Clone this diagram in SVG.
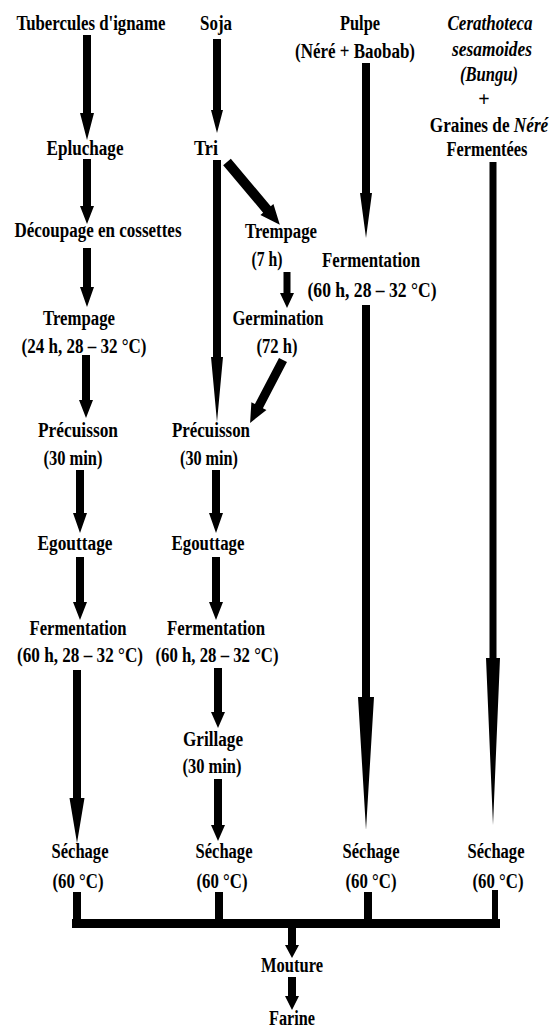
<svg xmlns="http://www.w3.org/2000/svg" width="550" height="1030" viewBox="0 0 550 1030">
<style>
.t{font-family:"Liberation Serif","Times New Roman",serif;font-weight:bold;font-size:20px;text-anchor:middle;fill:#000}
.i{font-style:italic}
.c path,.c rect{fill:#000;stroke:none}
</style>
<rect width="550" height="1030" fill="#fff"/>
<g id="connectors" class="c">
<path d="M83 35H91V113H94L87 140L80 113H83Z"/>
<path d="M83 159H91V206H94L87 224L80 206H83Z"/>
<path d="M83 248H91V287H94L87 307L80 287H83Z"/>
<path d="M82 355H90V400H93L86 418L79 400H82Z"/>
<path d="M76 470H84V513H87L80 533L73 513H76Z"/>
<path d="M76 557H84V602H87L80 620L73 602H76Z"/>
<path d="M73 670H81V798H84.5L77 843L69.5 798H73Z"/>
<path d="M213 39H221V110H223L217 133L211 110H213Z"/>
<path d="M213 160H221V357H223L217 422L211 357H213Z"/>
<path d="M283.5 272H290.5V293H294L287 308L280 293H283.5Z"/>
<path d="M212 470H220V513H223L216 533L209 513H212Z"/>
<path d="M212 557H220V602H223L216 620L209 602H212Z"/>
<path d="M214 668H222V712H225L218 728L211 712H214Z"/>
<path d="M214 779H222V825H225L218 841L211 825H214Z"/>
<path d="M362 63H370V193H372L366 238L360 193H362Z"/>
<path d="M362 305H370V697H374L366 830L358 697H362Z"/>
<path d="M489.5 162H496.5V658H500L493 825L486 658H489.5Z"/>
<path transform="translate(227,162) rotate(49.9)" d="M0 -5H62V-8.5L82 0L62 8.5V5H0Z"/>
<path transform="translate(283,360) rotate(117.6)" d="M0 -4.5H52V-8.5L71 0L52 8.5V4.5H0Z"/>
<rect x="73" y="892" width="8" height="30"/>
<rect x="215" y="892" width="8" height="30"/>
<rect x="364" y="892" width="8" height="30"/>
<rect x="492" y="890" width="6" height="32"/>
<rect x="72" y="919" width="428" height="9"/>
<path d="M288 926H296V945H299L292 958L285 945H288Z"/>
<path d="M288 977H296V996H299L292 1010L285 996H288Z"/>
</g>
<g id="tubercules"><text class="t" x="91" y="30" textLength="149" lengthAdjust="spacingAndGlyphs">Tubercules d'igname</text></g>
<g id="soja"><text class="t" x="216" y="30" textLength="32" lengthAdjust="spacingAndGlyphs">Soja</text></g>
<g id="pulpe"><text class="t" x="360" y="30" textLength="40" lengthAdjust="spacingAndGlyphs">Pulpe</text><text class="t" x="355" y="58" textLength="120" lengthAdjust="spacingAndGlyphs">(Néré + Baobab)</text></g>
<g id="bungu">
<text class="t i" x="490" y="30" textLength="85" lengthAdjust="spacingAndGlyphs">Cerathoteca</text>
<text class="t i" x="492" y="56" textLength="80" lengthAdjust="spacingAndGlyphs">sesamoides</text>
<text class="t i" x="489" y="81" textLength="58" lengthAdjust="spacingAndGlyphs">(Bungu)</text>
<text class="t" x="484" y="106">+</text>
<text class="t" transform="translate(489,132) scale(0.86,1)" x="0" y="0">Graines de <tspan class="i">Néré</tspan></text>
<text class="t" x="487" y="156" textLength="81" lengthAdjust="spacingAndGlyphs">Fermentées</text>
</g>
<g id="epluchage"><text class="t" x="85" y="155" textLength="77" lengthAdjust="spacingAndGlyphs">Epluchage</text></g>
<g id="tri"><text class="t" x="206" y="155" textLength="24" lengthAdjust="spacingAndGlyphs">Tri</text></g>
<g id="decoupage"><text class="t" x="98" y="237" textLength="167" lengthAdjust="spacingAndGlyphs">Découpage en cossettes</text></g>
<g id="trempage-soja"><text class="t" x="281" y="238" textLength="72" lengthAdjust="spacingAndGlyphs">Trempage</text><text class="t" x="267" y="266" textLength="31" lengthAdjust="spacingAndGlyphs">(7 h)</text></g>
<g id="fermentation-pulpe"><text class="t" x="371" y="267" textLength="98" lengthAdjust="spacingAndGlyphs">Fermentation</text><text class="t" x="372" y="297" textLength="129" lengthAdjust="spacingAndGlyphs">(60 h, 28 – 32 °C)</text></g>
<g id="trempage-igname"><text class="t" x="79" y="325" textLength="72" lengthAdjust="spacingAndGlyphs">Trempage</text><text class="t" x="84" y="353" textLength="125" lengthAdjust="spacingAndGlyphs">(24 h, 28 – 32 °C)</text></g>
<g id="germination"><text class="t" x="278" y="325" textLength="91" lengthAdjust="spacingAndGlyphs">Germination</text><text class="t" x="277" y="353" textLength="41" lengthAdjust="spacingAndGlyphs">(72 h)</text></g>
<g id="precuisson-igname"><text class="t" x="78" y="437" textLength="80" lengthAdjust="spacingAndGlyphs">Précuisson</text><text class="t" x="73" y="465" textLength="59" lengthAdjust="spacingAndGlyphs">(30 min)</text></g>
<g id="precuisson-soja"><text class="t" x="211" y="437" textLength="78" lengthAdjust="spacingAndGlyphs">Précuisson</text><text class="t" x="209" y="465" textLength="58" lengthAdjust="spacingAndGlyphs">(30 min)</text></g>
<g id="egouttage-igname"><text class="t" x="75" y="550" textLength="75" lengthAdjust="spacingAndGlyphs">Egouttage</text></g>
<g id="egouttage-soja"><text class="t" x="208" y="550" textLength="73" lengthAdjust="spacingAndGlyphs">Egouttage</text></g>
<g id="fermentation-igname"><text class="t" x="78" y="635" textLength="97" lengthAdjust="spacingAndGlyphs">Fermentation</text><text class="t" x="80" y="662" textLength="126" lengthAdjust="spacingAndGlyphs">(60 h, 28 – 32 °C)</text></g>
<g id="fermentation-soja"><text class="t" x="216" y="635" textLength="98" lengthAdjust="spacingAndGlyphs">Fermentation</text><text class="t" x="217" y="662" textLength="123" lengthAdjust="spacingAndGlyphs">(60 h, 28 – 32 °C)</text></g>
<g id="grillage"><text class="t" x="213" y="746" textLength="60" lengthAdjust="spacingAndGlyphs">Grillage</text><text class="t" x="212" y="773" textLength="59" lengthAdjust="spacingAndGlyphs">(30 min)</text></g>
<g id="sechage-1"><text class="t" x="80" y="858" textLength="57" lengthAdjust="spacingAndGlyphs">Séchage</text><text class="t" x="78" y="888" textLength="51" lengthAdjust="spacingAndGlyphs">(60 °C)</text></g>
<g id="sechage-2"><text class="t" x="224" y="858" textLength="57" lengthAdjust="spacingAndGlyphs">Séchage</text><text class="t" x="222" y="888" textLength="51" lengthAdjust="spacingAndGlyphs">(60 °C)</text></g>
<g id="sechage-3"><text class="t" x="371" y="858" textLength="57" lengthAdjust="spacingAndGlyphs">Séchage</text><text class="t" x="371" y="888" textLength="51" lengthAdjust="spacingAndGlyphs">(60 °C)</text></g>
<g id="sechage-4"><text class="t" x="496" y="858" textLength="57" lengthAdjust="spacingAndGlyphs">Séchage</text><text class="t" x="498" y="888" textLength="51" lengthAdjust="spacingAndGlyphs">(60 °C)</text></g>
<g id="mouture"><text class="t" x="292" y="972" textLength="62" lengthAdjust="spacingAndGlyphs">Mouture</text></g>
<g id="farine"><text class="t" x="292" y="1025" textLength="46" lengthAdjust="spacingAndGlyphs">Farine</text></g>
</svg>
